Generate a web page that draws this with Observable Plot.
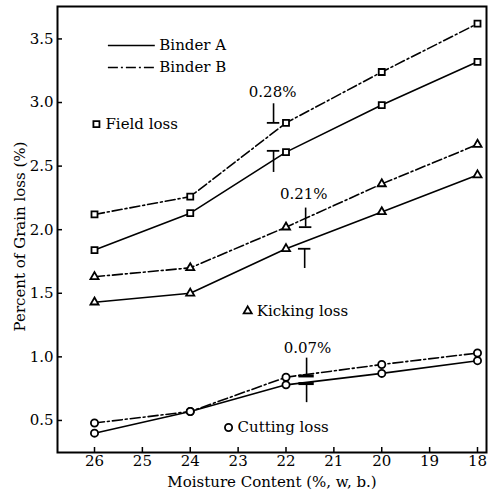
<!DOCTYPE html>
<html><head><meta charset="utf-8">
<script src="https://cdn.jsdelivr.net/npm/d3@7"></script>
<script src="https://cdn.jsdelivr.net/npm/@observablehq/plot@0.6"></script>
<style>
body{margin:0;background:#fff;} svg{display:block;}
#chart svg, #chart svg text{font-family:"DejaVu Serif","Liberation Serif",serif !important;}
</style>
</head><body><div id="chart"></div>
<script>
// ---- data ----
const moisture = [26, 24, 22, 20, 18];
const fieldA = [1.84, 2.13, 2.61, 2.98, 3.32];
const fieldB = [2.12, 2.26, 2.84, 3.24, 3.62];
const kickA  = [1.43, 1.50, 1.85, 2.14, 2.43];
const kickB  = [1.63, 1.70, 2.02, 2.36, 2.67];
const cutA   = [0.40, 0.57, 0.78, 0.87, 0.97];
const cutB   = [0.48, 0.57, 0.84, 0.94, 1.03];

const xTicks = [26, 25, 24, 23, 22, 21, 20, 19, 18];
const yTicks = [0.5, 1.0, 1.5, 2.0, 2.5, 3.0, 3.5];

// LSD annotations
const lsdText = ["0.28%", "0.21%", "0.07%"];
const lsdX = [22.28, 21.63, 21.55];
const lsdY = [3.08, 2.28, 1.07];
const errX  = [22.26, 22.26, 21.59, 21.61, 21.57, 21.57];
const errLo = [2.84, 2.45, 2.02, 1.695, 0.85, 0.64];
const errHi = [2.99, 2.62, 2.17, 1.85, 0.99, 0.79];
const errCap = ["lo", "hi", "lo", "hi", "lo", "hi"];
const errGroup = ["field", "field", "kick", "kick", "cut", "cut"];

// in-plot labels
const lossLabels = ["Field loss", "Kicking loss", "Cutting loss"];
const lossSymbols = ["square", "triangle", "circle"];
const lossX = [25.96, 22.80, 23.20];
const lossY = [2.83, 1.36, 0.445];

const legendLabels = ["Binder A", "Binder B"];
const legendY = [3.448, 3.275];
const legendX1 = 25.71, legendX2 = 24.73;

// ---- build tables ----
const series = [
  {loss: "square", binder: "A", values: fieldA},
  {loss: "square", binder: "B", values: fieldB},
  {loss: "triangle", binder: "A", values: kickA},
  {loss: "triangle", binder: "B", values: kickB},
  {loss: "circle", binder: "A", values: cutA},
  {loss: "circle", binder: "B", values: cutB}
];
const rows = [];
series.forEach(s => moisture.forEach((m, i) => rows.push({m, v: s.values[i], binder: s.binder, loss: s.loss, key: s.loss + s.binder})));
const errs = errX.map((x, i) => ({x, lo: errLo[i], hi: errHi[i], cap: errCap[i] === "lo" ? errLo[i] : errHi[i], g: errGroup[i]}));
const lsd = lsdText.map((t, i) => ({t, x: lsdX[i], y: lsdY[i]}));
const losses = lossLabels.map((t, i) => ({t, s: lossSymbols[i], x: lossX[i], y: lossY[i]}));
const legend = legendLabels.map((t, i) => ({t, y: legendY[i]}));

const dash = "10,3,2,3";
const font = '"DejaVu Serif", "Liberation Serif", serif';
const symR = {square: 3.4, triangle: 3.0, circle: 3.6};
const fs = 15;

const marks = [
  Plot.frame({stroke: "black", strokeWidth: 2}),
  Plot.axisX({ticks: xTicks, tickSize: -5, tickPadding: 8, tickFormat: d3.format("d"), label: null, fontSize: fs, strokeWidth: 1.5}),
  Plot.axisY({ticks: yTicks, tickSize: -5, tickPadding: 9, tickFormat: d3.format(".1f"), label: null, fontSize: fs, strokeWidth: 1.5}),
  Plot.text(["Moisture Content (%, w, b.)"], {frameAnchor: "bottom", dy: 30, fontSize: fs, textAnchor: "middle", lineAnchor: "middle"}),
  Plot.text(["Percent of Grain loss (%)"], {frameAnchor: "left", dx: -37, dy: 7, rotate: -90, fontSize: fs, textAnchor: "middle", lineAnchor: "middle"}),
  Plot.line(rows.filter(d => d.binder === "A"), {x: "m", y: "v", z: "key", stroke: "black", strokeWidth: 1.6}),
  Plot.line(rows.filter(d => d.binder === "B"), {x: "m", y: "v", z: "key", stroke: "black", strokeWidth: 1.6, strokeDasharray: dash}),
  ...lossSymbols.map(sym => Plot.dot(rows.filter(d => d.loss === sym), {x: "m", y: "v", symbol: sym, r: symR[sym], stroke: "black", strokeWidth: 1.8, fill: "white"})),
  // LSD bars
  Plot.ruleX(errs, {x: "x", y1: "lo", y2: "hi", stroke: "black", strokeWidth: 1.6}),
  Plot.ruleY(errs.filter(d => d.g !== "cut"), {y: "cap", x1: d => d.x + 0.13, x2: d => d.x - 0.13, stroke: "black", strokeWidth: 1.8}),
  Plot.ruleY(errs.filter(d => d.g === "cut"), {y: "cap", x1: d => d.x + 0.16, x2: d => d.x - 0.16, stroke: "black", strokeWidth: 3}),
  Plot.text(lsd, {x: "x", y: "y", text: "t", fontSize: fs}),
  // loss labels
  ...losses.map(d => Plot.dot([d], {x: "x", y: "y", symbol: "s", r: symR[d.s], stroke: "black", strokeWidth: 1.8, fill: "white"})),
  Plot.text(losses, {x: "x", y: "y", text: "t", dx: 9, textAnchor: "start", fontSize: fs}),
  // legend
  Plot.ruleY(legend.slice(0, 1), {y: "y", x1: legendX1, x2: legendX2, stroke: "black", strokeWidth: 1.6}),
  Plot.ruleY(legend.slice(1), {y: "y", x1: legendX1, x2: legendX2, stroke: "black", strokeWidth: 1.6, strokeDasharray: dash}),
  Plot.text(legend, {x: legendX2, y: "y", text: "t", dx: 4, textAnchor: "start", fontSize: fs})
];

const chart = Plot.plot({
  width: 498, height: 494,
  marginLeft: 57, marginRight: 12, marginTop: 6, marginBottom: 42,
  x: {domain: [26.773, 17.812]},
  y: {domain: [0.248, 3.755]},
  symbol: {domain: ["square", "triangle", "circle"], range: ["square", "triangle", "circle"]},
  style: {fontFamily: font, fontSize: fs + "px", background: "white", color: "black"},
  marks
});
document.getElementById("chart").appendChild(chart);
</script>
</body></html>
